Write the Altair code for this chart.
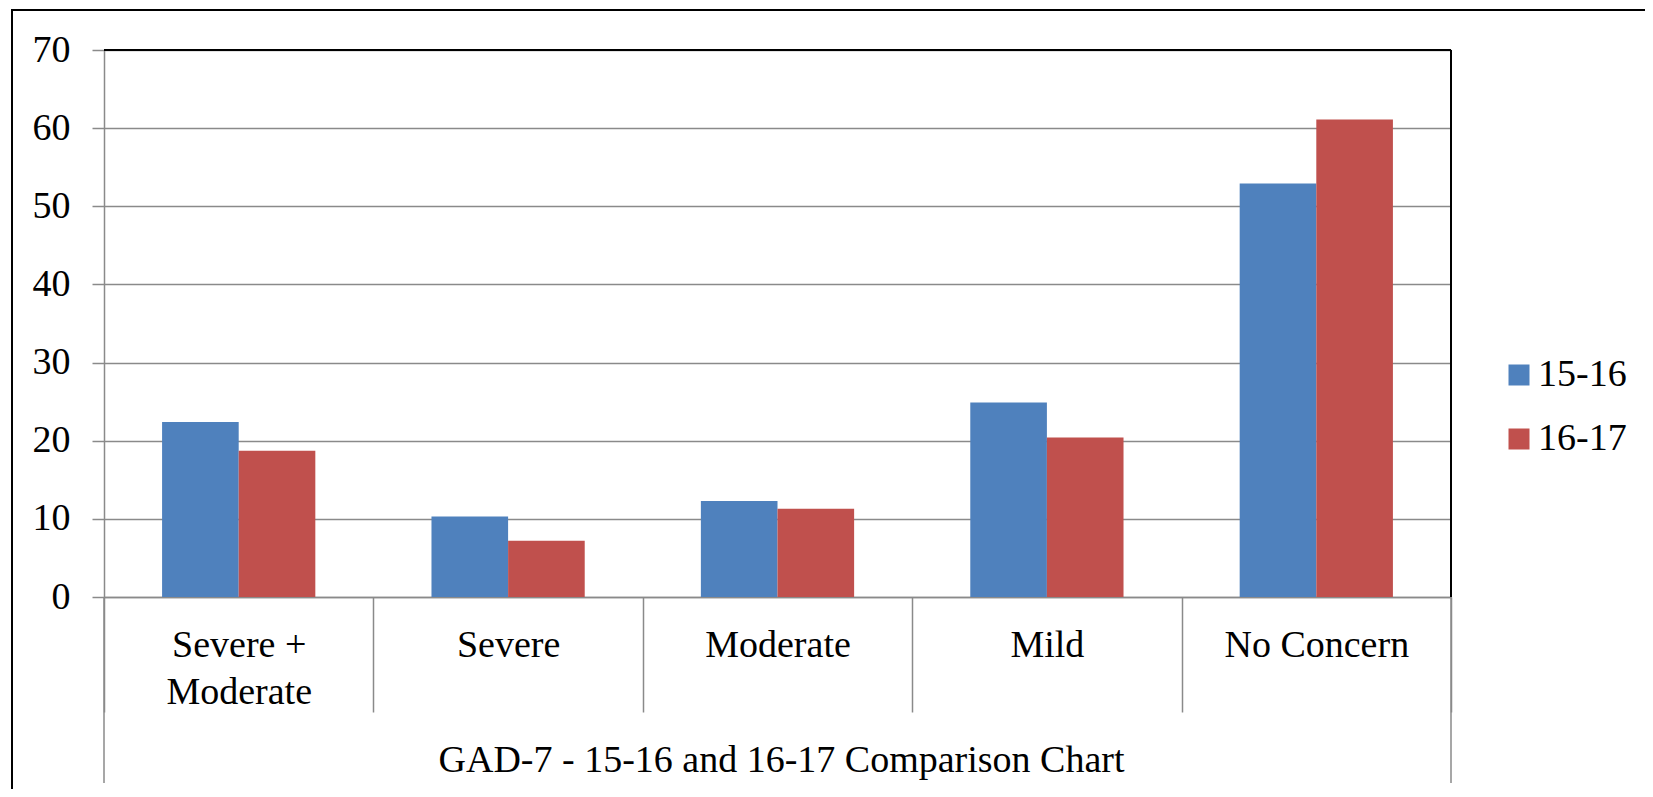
import altair as alt
import pandas as pd

categories = ["Severe + Moderate", "Severe", "Moderate", "Mild", "No Concern"]
series = ["15-16", "16-17"]
values_1516 = [22.4, 10.3, 12.3, 24.9, 52.9]
values_1617 = [18.7, 7.2, 11.3, 20.4, 61.1]
y_ticks = [0, 10, 20, 30, 40, 50, 60, 70]
colors = ["#4F81BD", "#C0504D"]
axis_title = "GAD-7 - 15-16 and 16-17 Comparison Chart"

rows = []
for c, a, b in zip(categories, values_1516, values_1617):
    rows.append({"Category": c, "Series": series[0], "Value": a})
    rows.append({"Category": c, "Series": series[1], "Value": b})
df = pd.DataFrame(rows)

W, H = 1347, 547
FONT = "Liberation Serif"
FS = 38
GRID = "#8a8a8a"

bars = alt.Chart(df).mark_bar().encode(
    x=alt.X("Category:N", sort=categories,
            scale=alt.Scale(paddingInner=0, paddingOuter=0),
            axis=alt.Axis(title=axis_title, labelAngle=0, tickBand="extent",
                          tickSize=115, tickColor=GRID, tickWidth=1.5,
                          domainColor=GRID, domainWidth=1.5,
                          labelPadding=-86, labelLineHeight=47, labelLimit=0,
                          labelExpr="datum.value == 'Severe + Moderate' ? ['Severe +', 'Moderate'] : datum.value",
                          titleY=174, titleBaseline="alphabetic", titleX=677,
                          grid=False)),
    xOffset=alt.XOffset("Series:N", sort=series,
                        scale=alt.Scale(paddingInner=0, paddingOuter=0.758)),
    y=alt.Y("Value:Q", scale=alt.Scale(domain=[0, 70], nice=False),
            axis=alt.Axis(title=None, values=y_ticks, tickSize=12, tickColor=GRID,
                          tickWidth=1.5, domainColor=GRID, domainWidth=1.5,
                          labelPadding=22, gridColor=GRID, gridWidth=1.5)),
    color=alt.Color("Series:N", sort=series,
                    scale=alt.Scale(domain=series, range=colors),
                    legend=alt.Legend(title=None, orient="none", legendX=1396, legendY=306,
                                      symbolType="square", symbolSize=441,
                                      symbolStrokeWidth=0, labelOffset=0,
                                      rowPadding=26, padding=0, labelLimit=0)),
)

frame_top = alt.Chart().mark_rule(color="black", strokeWidth=2).encode(
    x=alt.value(-92), x2=alt.value(1545), y=alt.value(-40))
frame_left = alt.Chart().mark_rule(color="black", strokeWidth=2).encode(
    x=alt.value(-92), y=alt.value(-41), y2=alt.value(740))
plot_top = alt.Chart().mark_rule(color="black", strokeWidth=2).encode(
    x=alt.value(0), x2=alt.value(W), y=alt.value(0))
plot_right = alt.Chart().mark_rule(color="black", strokeWidth=2).encode(
    x=alt.value(W), y=alt.value(0), y2=alt.value(H))
ext_left = alt.Chart().mark_rule(color=GRID, strokeWidth=1.5).encode(
    x=alt.value(0), y=alt.value(H), y2=alt.value(H + 186))
ext_right = alt.Chart().mark_rule(color=GRID, strokeWidth=1.5).encode(
    x=alt.value(W), y=alt.value(H), y2=alt.value(H + 186))

chart = alt.layer(bars, frame_top, frame_left, plot_top, plot_right, ext_left, ext_right).properties(
    width=W, height=H,
    autosize=alt.AutoSizeParams(type="none"),
    padding={"left": 96, "top": 42, "right": 194, "bottom": 192},
    background="white",
).configure_view(stroke=None).configure_axis(
    labelFont=FONT, labelFontSize=FS, labelColor="black",
    titleFont=FONT, titleFontSize=FS, titleColor="black", titleFontWeight="normal",
).configure_legend(
    labelFont=FONT, labelFontSize=FS, labelColor="black",
)

chart.save("out.html", embed_options={"renderer": "svg", "actions": False})
